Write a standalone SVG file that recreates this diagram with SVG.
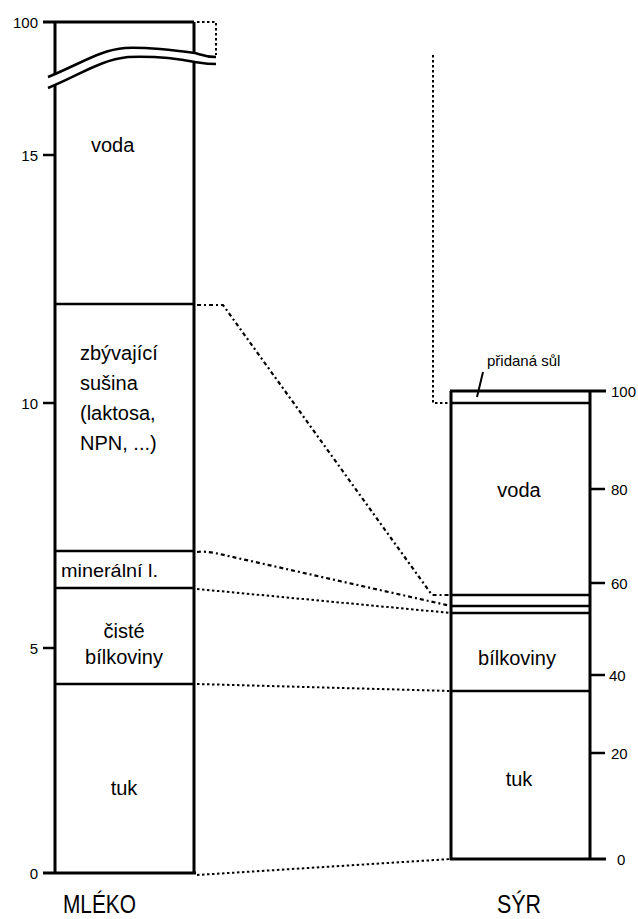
<svg xmlns="http://www.w3.org/2000/svg" width="638" height="919" viewBox="0 0 638 919">
<style>
.t{font-family:"Liberation Sans",Arial,sans-serif;fill:#000}
.ax{font-size:15px}
.lb{font-size:20px}
.b{stroke:#000;stroke-width:3;fill:none}
.h{stroke:#000;stroke-width:2.5;fill:none}
.tk{stroke:#000;stroke-width:2.5}
.dot{stroke:#000;stroke-width:2;fill:none;stroke-dasharray:2.5 2.5}
.dash{stroke:#000;stroke-width:2.2;fill:none;stroke-dasharray:4 3 2 3}
</style>
<rect width="638" height="919" fill="#fff"/>
<g id="mleko">
<line class="b" x1="55" y1="22" x2="55" y2="874"/>
<line class="b" x1="194" y1="22" x2="194" y2="874"/>
<line class="b" x1="43" y1="22" x2="194" y2="22"/>
<line class="b" x1="43" y1="873" x2="196" y2="873"/>
<line class="h" x1="55" y1="304" x2="194" y2="304"/>
<line class="h" x1="55" y1="551" x2="194" y2="551"/>
<line class="h" x1="55" y1="588" x2="194" y2="588"/>
<line class="h" x1="55" y1="684" x2="194" y2="684"/>
<line class="tk" x1="43" y1="155" x2="55" y2="155"/>
<line class="tk" x1="43" y1="403" x2="55" y2="403"/>
<line class="tk" x1="43" y1="648" x2="55" y2="648"/>
<text class="t ax" x="38" y="28" text-anchor="end">100</text>
<text class="t ax" x="38" y="161" text-anchor="end">15</text>
<text class="t ax" x="38" y="409" text-anchor="end">10</text>
<text class="t ax" x="38" y="654" text-anchor="end">5</text>
<text class="t ax" x="38" y="879" text-anchor="end">0</text>
<text class="t lb" x="91" y="152">voda</text>
<text class="t lb" x="80" y="360">zbývající</text>
<text class="t lb" x="80" y="390">sušina</text>
<text class="t lb" x="80" y="420">(laktosa,</text>
<text class="t lb" x="80" y="450">NPN, ...)</text>
<text class="t" x="61" y="577" style="font-size:19px" textLength="97" lengthAdjust="spacingAndGlyphs">minerální l.</text>
<text class="t lb" x="124" y="638" text-anchor="middle">čisté</text>
<text class="t lb" x="124" y="664" text-anchor="middle">bílkoviny</text>
<text class="t lb" x="124" y="795" text-anchor="middle">tuk</text>
<text class="t" x="63" y="913" style="font-size:26px" textLength="73" lengthAdjust="spacingAndGlyphs">MLÉKO</text>
</g>
<g id="break">
<path d="M40,80 C80,64 100,50 125,48 C150,47 180,51 195,53 C202,55 205,57 218,57 L218,64 C207,64 202,63 195,62 C180,59 155,56 128,57 C100,60 80,75 40,91 Z" fill="#fff"/>
<path class="h" d="M48,77 C80,64 100,50 125,48 C150,47 180,51 195,53 C202,55 205,57 216,57"/>
<path class="h" d="M48,88 C80,75 100,60 128,57 C155,56 180,59 195,62 C202,63 207,64 216,64"/>
<path class="dot" d="M197,22 H216 V55"/>
</g>
<g id="syr">
<line class="b" x1="451" y1="391" x2="451" y2="860"/>
<line class="b" x1="590" y1="391" x2="590" y2="860"/>
<line class="b" x1="450" y1="391" x2="606" y2="391"/>
<line class="b" x1="450" y1="859" x2="606" y2="859"/>
<line class="h" x1="451" y1="403" x2="590" y2="403"/>
<line class="h" x1="451" y1="595" x2="590" y2="595"/>
<line class="h" x1="451" y1="606" x2="590" y2="606"/>
<line class="h" x1="451" y1="613" x2="590" y2="613"/>
<line class="h" x1="451" y1="691" x2="590" y2="691"/>
<line class="tk" x1="590" y1="489" x2="605" y2="489"/>
<line class="tk" x1="590" y1="583" x2="605" y2="583"/>
<line class="tk" x1="590" y1="675" x2="605" y2="675"/>
<line class="tk" x1="590" y1="753" x2="605" y2="753"/>
<text class="t ax" x="611" y="397">100</text>
<text class="t ax" x="611" y="495">80</text>
<text class="t ax" x="611" y="589">60</text>
<text class="t ax" x="609" y="681">40</text>
<text class="t ax" x="611" y="759">20</text>
<text class="t ax" x="617" y="865">0</text>
<text class="t lb" x="519" y="497" text-anchor="middle">voda</text>
<text class="t lb" x="517" y="665" text-anchor="middle">bílkoviny</text>
<text class="t lb" x="519" y="786" text-anchor="middle">tuk</text>
<text class="t" x="487" y="366" style="font-size:15px">přidaná sůl</text>
<line stroke="#000" stroke-width="2" x1="483" y1="372" x2="477" y2="397"/>
<text class="t" x="497" y="913" style="font-size:26px" textLength="44" lengthAdjust="spacingAndGlyphs">SÝR</text>
</g>
<g id="connectors">
<path class="dot" d="M433,55 V403 H451"/>
<path class="dash" d="M197,305 H223 L432,595 H451"/>
<path class="dash" d="M197,552 Q205,551 215,553 L451,606"/>
<path class="dot" d="M197,589 L451,613"/>
<path class="dot" d="M197,684 L451,691"/>
<path class="dot" d="M197,875 L451,859"/>
</g>
</svg>
